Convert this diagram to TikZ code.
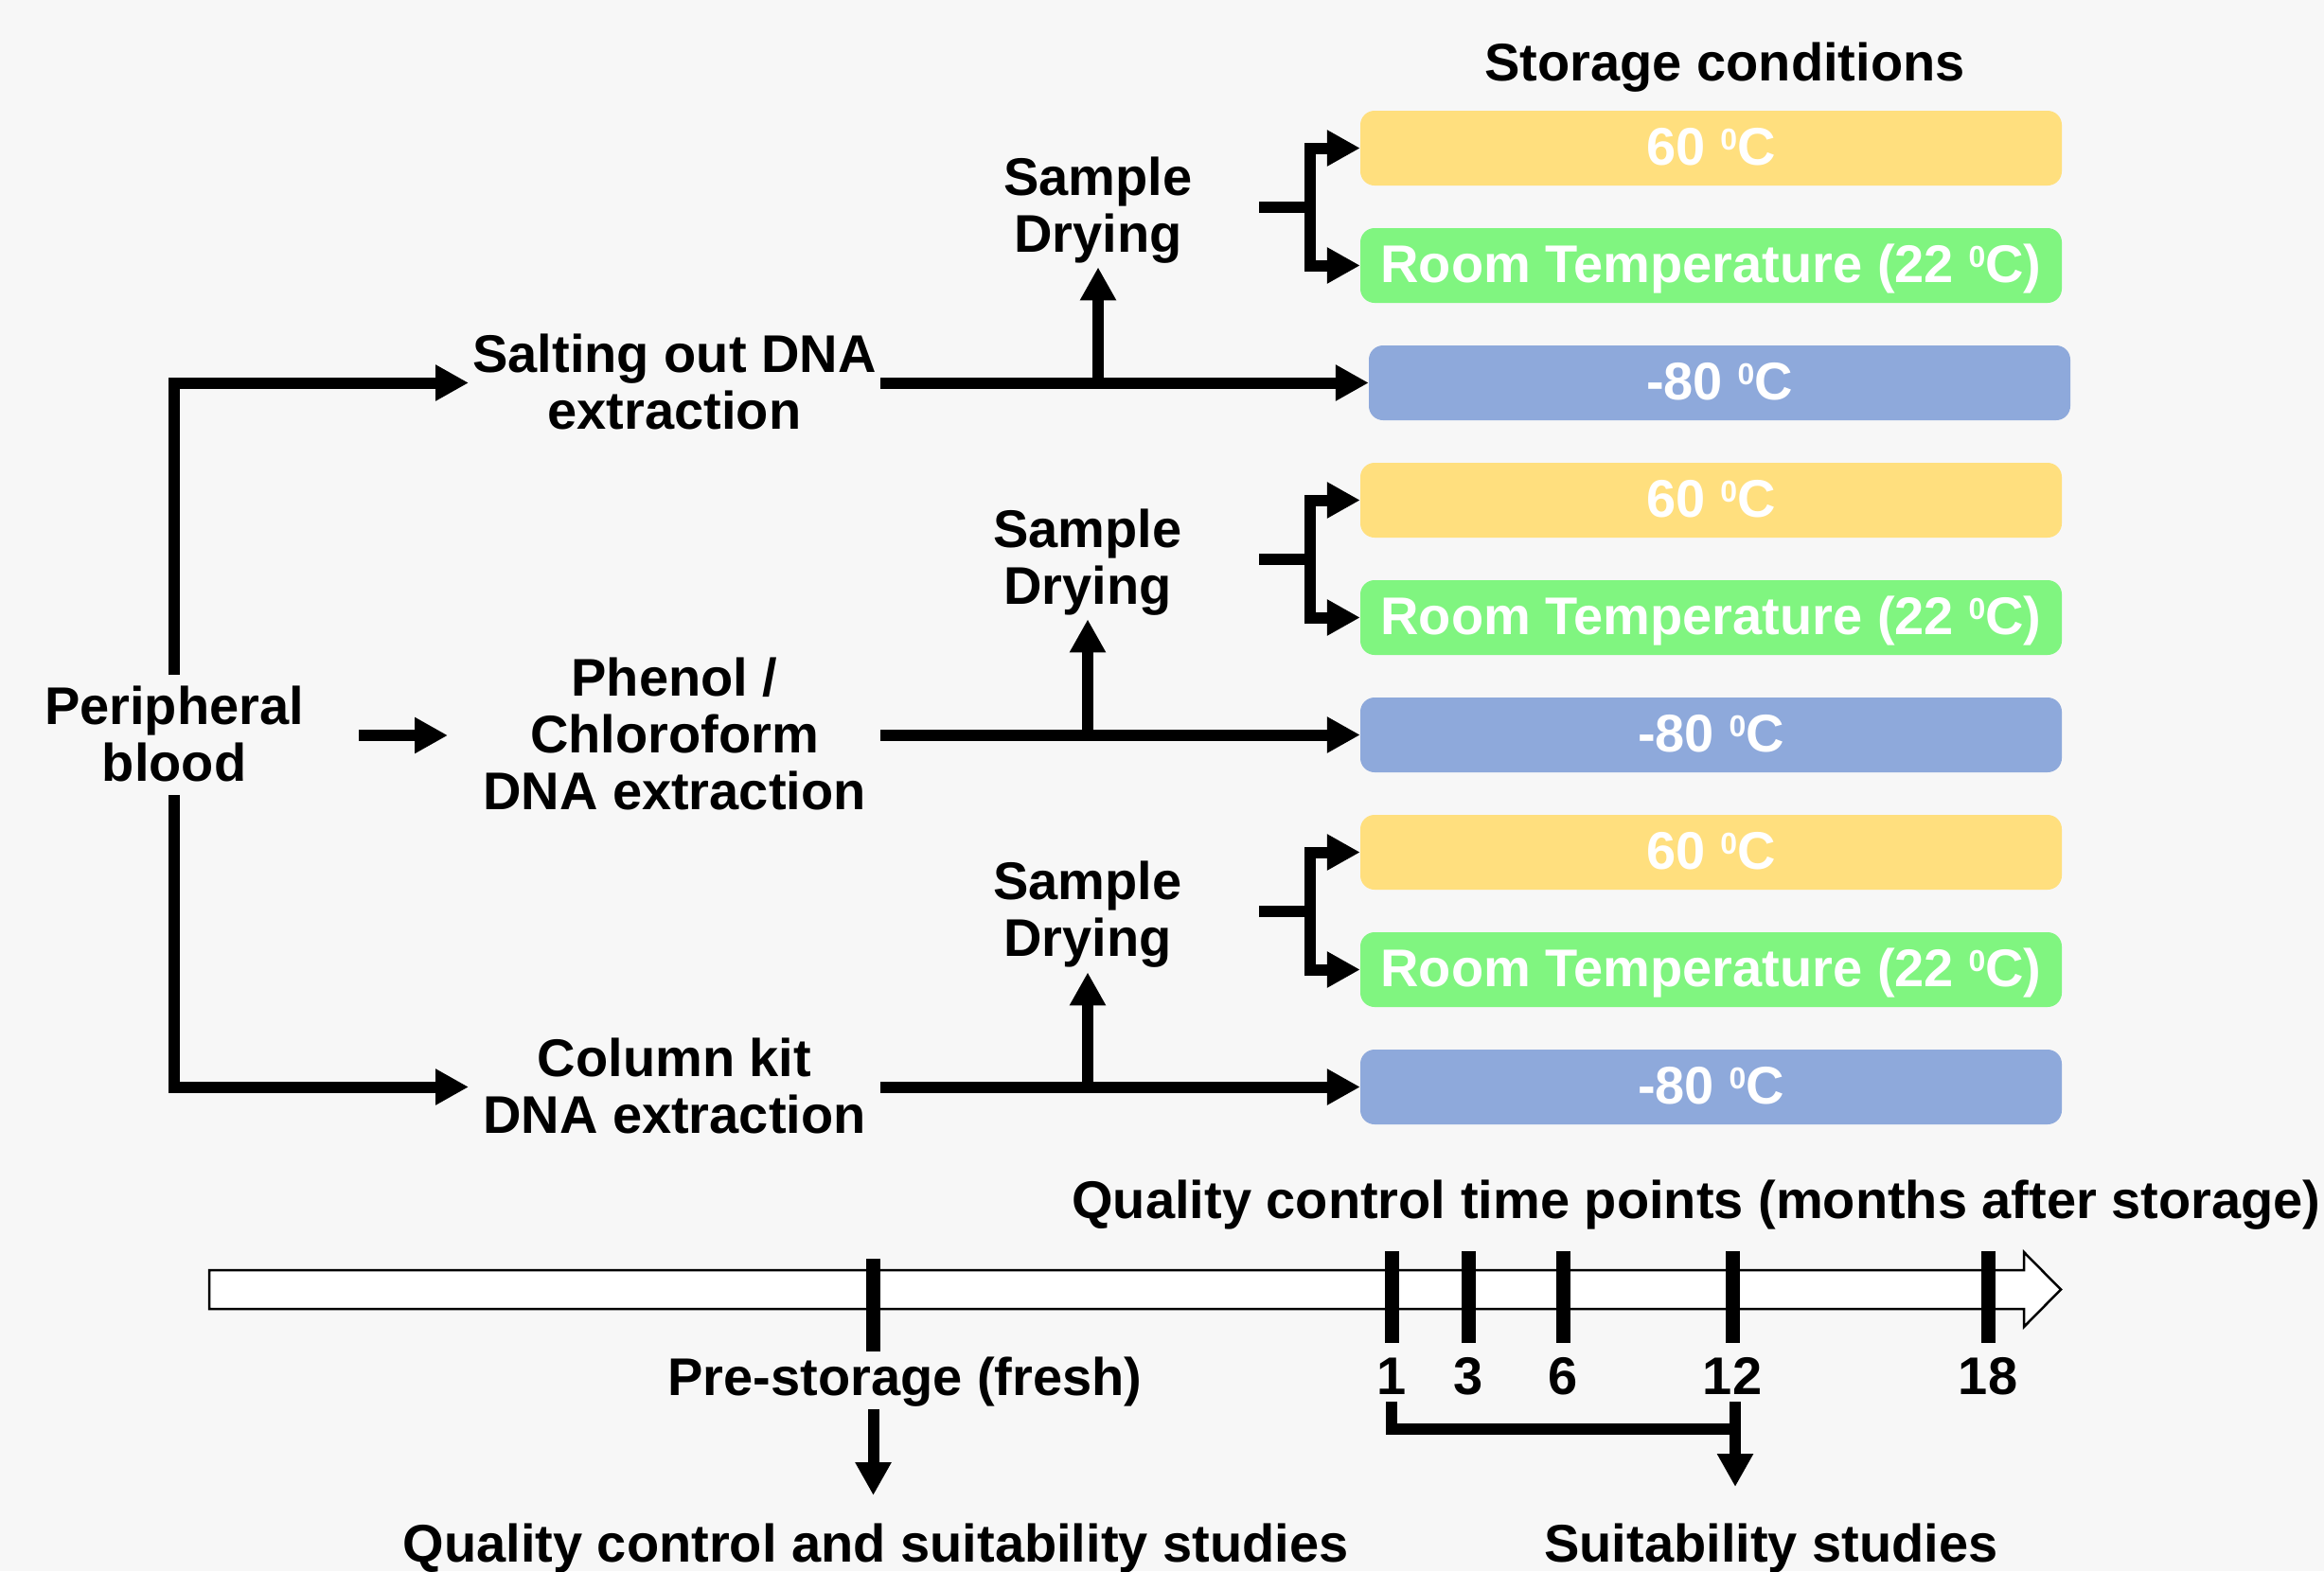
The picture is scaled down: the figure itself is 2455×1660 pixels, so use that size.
\documentclass[tikz,border=0pt]{standalone}
\usepackage{fontspec}
\setmainfont{Liberation Sans}
\usetikzlibrary{arrows.meta}
\definecolor{bgc}{HTML}{F7F7F7}
\definecolor{cyel}{HTML}{FFDF7E}
\definecolor{cgrn}{HTML}{80F580}
\definecolor{cblu}{HTML}{8EA9DB}
\newcommand\degsup{\raisebox{16pt}{\fontsize{32}{32}\selectfont 0}}
\newcommand\bigfont{\fontsize{56}{60}\selectfont\bfseries}
\begin{document}
\begin{tikzpicture}[x=1pt,y=-1pt,
  lbl/.style={font=\bigfont, inner sep=0pt, align=center, anchor=north},
  sbox/.style={rectangle, rounded corners=15pt, minimum width=741pt, minimum height=79pt,
    inner sep=0pt, text=white, font=\bigfont, text height=35pt, text depth=0pt},
  conn/.style={line width=12pt, draw=black},
  arr/.style={conn, -{Triangle[length=35pt,width=36pt]}},
  tickl/.style={line width=15pt, draw=black}]
\fill[bgc] (0,0) rectangle (2455,1660);
\useasboundingbox (0,0) rectangle (2455,1660);

% storage title
\node[lbl] (stc) at (1822,43) {\strut Storage conditions};

% storage boxes
\node[sbox, fill=cyel] (y1) at (1807.5,156.5) {60 \degsup C};
\node[sbox, fill=cgrn] (g1) at (1807.5,280.5) {Room Temperature (22 \degsup C)};
\node[sbox, fill=cblu] (b1) at (1816.5,404.5) {-80 \degsup C};
\node[sbox, fill=cyel] (y2) at (1807.5,528.5) {60 \degsup C};
\node[sbox, fill=cgrn] (g2) at (1807.5,652.5) {Room Temperature (22 \degsup C)};
\node[sbox, fill=cblu] (b2) at (1807.5,776.5) {-80 \degsup C};
\node[sbox, fill=cyel] (y3) at (1807.5,900.5) {60 \degsup C};
\node[sbox, fill=cgrn] (g3) at (1807.5,1024.5) {Room Temperature (22 \degsup C)};
\node[sbox, fill=cblu] (b3) at (1807.5,1148.5) {-80 \degsup C};

% text labels
\node[lbl] (pb) at (184,723) {\strut Peripheral\\\strut blood};
\node[lbl] (salt) at (712.5,351) {\strut Salting out DNA\\\strut extraction};
\node[lbl] (phen) at (712.5,693) {\strut Phenol /\\\strut Chloroform\\\strut DNA extraction};
\node[lbl] (col) at (712.5,1095) {\strut Column kit\\\strut DNA extraction};
\node[lbl] (sd1) at (1160,164) {\strut Sample\\\strut Drying};
\node[lbl] (sd2) at (1149,536) {\strut Sample\\\strut Drying};
\node[lbl] (sd3) at (1149,908) {\strut Sample\\\strut Drying};

% left branching
\coordinate (pbt) at (184,713);
\coordinate (pbb) at (184,840);
\coordinate (saltin) at (495,404.5);
\coordinate (colin) at (495,1148.5);
\coordinate (pbr) at (379,777);
\coordinate (phenin) at (473,777);
\draw[arr] (pbt) |- (saltin);
\draw[arr] (pbb) |- (colin);
\draw[arr] (pbr) -- (phenin);

% group connectors
\coordinate (s1) at (930,404.5);
\coordinate (s2) at (930,776.5);
\coordinate (s3) at (930,1148.5);
\draw[arr] (s1) -- (b1.west);
\draw[arr] (s2) -- (b2.west);
\draw[arr] (s3) -- (b3.west);
\draw[arr] (sd1.south |- s1) -- ([yshift=2pt]sd1.south);
\draw[arr] (sd2.south |- s2) -- ([yshift=2pt]sd2.south);
\draw[arr] (sd3.south |- s3) -- ([yshift=1pt]sd3.south);

% drying brackets
\foreach \i/\yy in {1/218.5,2/590.5,3/962.5}{
  \coordinate (st\i) at (1330,\yy);
  \coordinate (br\i) at (1384,\yy);
  \draw[conn] (st\i) -- (br\i);
  \draw[arr] (br\i) |- (y\i.west);
  \draw[arr] (br\i) |- (g\i.west);
}

% timeline
\node[lbl] (qct) at (1792,1245) {\strut Quality control time points (months after storage)};
\draw[line width=2.5pt, fill=white] (221,1342) -- (2138,1342) -- (2138,1323) -- (2177,1362.5)
  -- (2138,1402) -- (2138,1383) -- (221,1383) -- cycle;
\coordinate (ptk) at (922.5,1330);
\draw[tickl] (ptk) -- (922.5,1428);
\foreach \x/\n in {1470/1,1551/3,1651/6,1830/12,2100/18}{
  \coordinate (k\n) at (\x,1322);
  \draw[tickl] (k\n) -- (\x,1419);
  \node[lbl] (t\n) at (\x,1431) {\strut\n};
}
\node[lbl] (pre) at (956,1432) {\strut Pre-storage (fresh)};
\node[lbl] (qcs) at (925,1608) {\strut Quality control and suitability studies};
\node[lbl] (sst) at (1871,1608) {\strut Suitability studies};

\coordinate (pa) at (922.5,1489);
\coordinate (pe) at (922.5,1580);
\draw[arr] (pa) -- (pe);
\coordinate (c1) at (1470,1481);
\coordinate (c12) at (1833,1481);
\coordinate (c12e) at (1833,1571);
\draw[conn] (c1) |- (c12 |- 0,1510);
\draw[arr] (c12) -- (c12e);
\end{tikzpicture}
\end{document}
